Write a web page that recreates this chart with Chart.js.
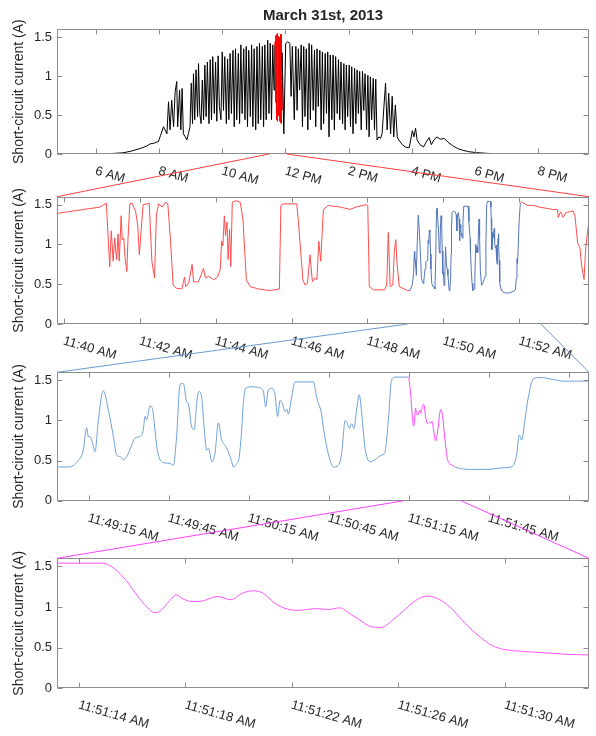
<!DOCTYPE html>
<html>
<head>
<meta charset="utf-8">
<script src="https://cdn.jsdelivr.net/npm/chart.js@4.4.1/dist/chart.umd.min.js"></script>
<style>
  html, body { margin: 0; padding: 0; background: #fff; }
  #page { position: relative; width: 596px; height: 736px; overflow: hidden; background: #fff; }
  #page canvas { position: absolute; left: 0; }
</style>
</head>
<body>
<div id="page">
  <canvas id="day" width="596" height="200" style="top:0px"></canvas>
  <canvas id="minutes" width="596" height="190" style="top:180px"></canvas>
  <canvas id="seconds" width="596" height="190" style="top:356px"></canvas>
  <canvas id="detail" width="596" height="194" style="top:542px"></canvas>
  <canvas id="links" width="596" height="736" style="top:0px"></canvas>
</div>
<script>
// --- whole day, hours (outside the zoomed window) ---
const dayHours = [4.77, 5.5, 6.0, 6.5, 6.85, 7.1, 7.4, 7.6, 7.72, 7.85, 7.98,
  8.05, 8.14, 8.19, 8.25, 8.30, 8.35, 8.40, 8.46, 8.51, 8.56, 8.59, 8.65, 8.69, 8.73, 8.77, 8.83, 8.88, 8.93, 8.98,
  9.02, 9.06, 9.09, 9.13, 9.17, 9.22, 9.25, 9.29, 9.33, 9.37, 9.41, 9.45, 9.49, 9.53, 9.58, 9.62, 9.66, 9.70, 9.75, 9.79, 9.83, 9.87, 9.91, 9.96,
  10.00, 10.04, 10.08, 10.13, 10.17, 10.21, 10.25, 10.29, 10.34, 10.38, 10.42, 10.46, 10.51, 10.55, 10.59, 10.63, 10.68, 10.72, 10.76, 10.80, 10.84, 10.89, 10.93, 10.97,
  11.01, 11.06, 11.10, 11.14, 11.18, 11.22, 11.27, 11.31, 11.35, 11.39, 11.44, 11.48, 11.52, 11.56, 11.60, 11.64,
  11.95, 12.01, 12.07, 12.14, 12.18, 12.22, 12.28, 12.33, 12.37, 12.41, 12.45, 12.50, 12.54, 12.58, 12.62, 12.66, 12.71, 12.75, 12.79, 12.83, 12.88, 12.92, 12.96,
  13.00, 13.04, 13.09, 13.13, 13.17, 13.21, 13.26, 13.30, 13.34, 13.38, 13.42, 13.47, 13.51, 13.55, 13.59, 13.64, 13.68, 13.72, 13.76, 13.81, 13.85, 13.89, 13.93, 13.97,
  14.02, 14.06, 14.10, 14.14, 14.19, 14.23, 14.27, 14.31, 14.35, 14.40, 14.44, 14.48, 14.52, 14.57, 14.61, 14.65, 14.69, 14.73, 14.78, 14.82, 14.86, 14.90, 14.96,
  15.01, 15.06, 15.17, 15.22, 15.27, 15.33, 15.38, 15.43, 15.48, 15.54, 15.59, 15.70, 15.80, 15.92,
  16.02, 16.07, 16.12, 16.17, 16.26, 16.37, 16.45, 16.55, 16.62, 16.70, 16.80, 16.90,
  17.03, 17.15, 17.28, 17.45, 17.60, 17.80, 18.06, 18.40, 18.80, 19.50, 21.61];
const dayAmps = [0, 0, 0.002, 0.006, 0.015, 0.035, 0.07, 0.10, 0.13, 0.14, 0.16,
  0.24, 0.35, 0.31, 0.26, 0.67, 0.31, 0.69, 0.35, 0.80, 0.93, 0.35, 0.82, 0.31, 0.84, 0.26, 0.22, 0.18, 0.26, 0.35,
  0.91, 0.39, 1.03, 0.44, 1.08, 0.48, 1.16, 0.52, 0.39, 0.95, 0.44, 1.14, 0.48, 1.18, 0.39, 1.21, 0.44, 1.25, 0.52, 1.18, 0.42, 1.26, 0.61, 0.44,
  1.31, 0.56, 1.25, 0.39, 1.22, 0.44, 1.29, 0.52, 1.33, 0.35, 1.35, 0.44, 1.29, 0.39, 1.40, 0.52, 1.35, 0.44, 1.38, 0.35, 1.33, 0.48, 1.40, 0.35,
  1.35, 0.31, 1.38, 0.39, 1.42, 0.44, 1.38, 0.35, 1.40, 0.44, 1.46, 0.52, 1.42, 0.44, 1.40, 0.82,
  0.26, 1.42, 1.44, 1.42, 0.74, 1.38, 0.44, 1.38, 0.56, 1.35, 0.82, 1.40, 0.35, 1.38, 0.48, 1.35, 0.31, 1.42, 0.44, 1.40, 0.56, 1.33, 0.35,
  1.35, 0.61, 1.33, 0.31, 1.31, 0.39, 1.29, 0.52, 1.31, 0.22, 1.27, 0.44, 1.27, 0.31, 1.25, 0.52, 1.21, 0.44, 1.18, 0.39, 1.16, 0.31, 1.14, 0.48,
  1.14, 0.35, 1.12, 0.26, 1.10, 0.39, 1.08, 0.52, 1.06, 0.31, 1.06, 0.56, 1.03, 0.31, 1.01, 0.22, 0.99, 0.44, 0.97, 0.31, 0.96, 0.18, 0.22,
  0.20, 0.26, 0.91, 0.31, 0.78, 0.26, 0.74, 0.22, 0.63, 0.22, 0.18, 0.12, 0.09, 0.08,
  0.30, 0.22, 0.33, 0.18, 0.12, 0.09, 0.15, 0.21, 0.12, 0.18, 0.22, 0.19,
  0.20, 0.15, 0.11, 0.07, 0.05, 0.03, 0.017, 0.008, 0.003, 0, 0];
const dayRange = [4.77, 21.61];
const dayTicks = [6, 8, 10, 12, 14, 16, 18, 20];
const dayLabels = ['6 AM', '8 AM', '10 AM', '12 PM', '2 PM', '4 PM', '6 PM', '8 PM'];
const dayLink = [11.48, 12.04];

// --- 11:39:49 to 11:53:50, minutes after 11:00 (outside the next zoom) ---
const minuteTimes = [39.82, 40.53, 40.96, 41.12, 41.21, 41.25, 41.30, 41.34, 41.39, 41.43, 41.46, 41.51, 41.54, 41.58, 41.61, 41.66, 41.69, 41.74, 41.80, 41.89,
  41.95, 41.99, 42.04, 42.09, 42.19, 42.25, 42.32, 42.39, 42.44, 42.50, 42.59, 42.68, 42.74, 42.81, 42.88, 42.96, 43.11, 43.18, 43.21, 43.29,
  43.38, 43.42, 43.55, 43.68, 43.73, 43.82, 43.95, 44.05, 44.12, 44.16, 44.19, 44.23, 44.26, 44.30, 44.33, 44.37, 44.40, 44.44, 44.54, 44.65,
  44.72, 44.81, 44.91, 45.13, 45.44, 45.68, 45.72, 45.79, 46.14, 46.18, 46.30, 46.36, 46.42, 46.49, 46.55, 46.61, 46.67, 46.72, 46.77, 46.84,
  46.97, 47.28, 47.54, 47.70, 47.96, 48.01, 48.05, 48.16, 48.45, 48.51, 48.55, 48.60, 48.67, 48.71, 48.75, 48.78, 48.84, 48.97,
  52.53, 52.88, 53.01, 53.03, 53.09, 53.16, 53.23, 53.33, 53.42, 53.47, 53.54, 53.60, 53.65, 53.71, 53.75, 53.81, 53.84];
const minuteAmps = [1.39, 1.44, 1.47, 1.52, 0.72, 1.17, 0.79, 1.08, 0.81, 1.13, 0.79, 1.36, 1.06, 1.08, 0.85, 0.66, 1.06, 1.51, 1.52, 1.42,
  1.23, 0.87, 1.19, 1.50, 1.51, 1.52, 0.79, 0.58, 1.38, 1.51, 1.47, 1.53, 1.51, 1.06, 0.49, 0.45, 0.44, 0.59, 0.47, 0.51,
  0.75, 0.53, 0.53, 0.70, 0.58, 0.60, 0.555, 0.59, 0.68, 1.04, 0.98, 1.36, 1.11, 1.28, 0.81, 1.19, 0.72, 1.53, 1.55, 1.53,
  1.32, 0.555, 0.47, 0.44, 0.42, 0.44, 1.49, 1.51, 1.51, 1.30, 0.555, 0.49, 0.51, 0.87, 0.53, 0.58, 0.555, 1.04, 0.79, 1.44,
  1.49, 1.47, 1.44, 1.47, 1.50, 1.49, 0.47, 0.43, 0.43, 0.49, 1.15, 0.47, 0.49, 0.92, 1.06, 0.77, 0.47, 0.44,
  1.47, 1.44, 1.44, 1.34, 1.41, 1.34, 1.40, 1.41, 1.42, 1.36, 1.02, 0.96, 0.72, 0.56, 0.94, 1.19, 1.30];
const minuteRange = [39.82, 53.84];
const minuteTicks = [40, 42, 44, 46, 48, 50, 52];
const minuteLabels = ['11:40 AM', '11:42 AM', '11:44 AM', '11:46 AM', '11:48 AM', '11:50 AM', '11:52 AM'];
const minuteBlue = [49.08, 52.03];
const minuteLink = [49.06, 52.57];

// --- 11:49:03 to 11:52:23, seconds after 11:49:00 (outside the next zoom) ---
const secondTimes = [3.15, 7.4, 11.15, 13.0, 14.3, 14.9, 15.5, 16.4, 17.4, 18.65, 20.5, 22.4, 24.3, 25.5, 26.8, 28.0, 29.3, 31.15, 32.4, 34.3,
  35.5, 36.15, 36.8, 38.0, 38.9, 39.9, 40.5, 41.8, 43.65, 45.5, 46.8, 48.0, 49.3, 50.5, 51.8, 52.4, 53.65, 54.65, 55.5, 56.4,
  57.4, 58.3, 59.3, 59.9, 60.5, 61.15, 62.4, 63.65, 64.9, 66.15, 67.4, 68.65, 69.3, 70.5, 71.4, 72.4, 73.0, 73.9, 76.15, 78.65,
  80.5, 81.4, 82.4, 83.9, 84.9, 85.9, 86.8, 87.65, 88.65, 89.3, 89.9, 91.15, 92.4, 99.3, 100.5, 102.4, 103.0, 104.3, 105.5, 106.8,
  108.6, 109.9, 111.2, 111.8, 112.8, 113.6, 114.5, 115.5, 116.5, 117.4, 118.6, 120.5, 122.4, 124.9, 126.1, 127.4, 128.6, 129.9,
  158.0, 164.3, 170.5, 174.0, 175.5, 176.5, 177.4, 178.6, 179.9, 181.8, 184.3, 189.3, 193.0, 198.0, 202.65];
const secondAmps = [0.42, 0.42, 0.50, 0.63, 0.91, 0.80, 0.80, 0.73, 0.61, 1.0, 1.37, 1.13, 0.80, 0.57, 0.55, 0.51, 0.55, 0.69, 0.78, 0.80,
  0.88, 1.05, 1.01, 1.18, 1.15, 0.88, 0.69, 0.51, 0.47, 0.465, 0.44, 0.80, 1.45, 1.46, 1.23, 1.21, 0.92, 0.89, 1.21, 1.36,
  1.29, 0.92, 0.63, 0.65, 0.59, 0.485, 0.59, 0.97, 0.755, 0.69, 0.61, 0.485, 0.42, 0.465, 0.53, 0.88, 1.21, 1.40, 1.42, 1.41,
  1.37, 1.17, 1.38, 1.40, 1.32, 1.05, 1.25, 1.21, 1.11, 1.14, 1.08, 1.29, 1.48, 1.48, 1.29, 1.07, 0.92, 0.67, 0.51, 0.42,
  0.44, 0.59, 1.0, 0.98, 0.90, 0.96, 0.90, 1.13, 1.32, 1.09, 0.67, 0.485, 0.51, 0.57, 0.60, 1.0, 1.50, 1.54,
  0.39, 0.39, 0.41, 0.43, 0.57, 0.82, 0.755, 1.0, 1.29, 1.52, 1.535, 1.51, 1.49, 1.49, 1.49];
const secondRange = [3.15, 202.65];
const secondTicks = [15, 45, 75, 105, 135, 165, 195];
const secondLabels = ['11:49:15 AM', '11:49:45 AM', '11:50:15 AM', '11:50:45 AM', '11:51:15 AM', '11:51:45 AM', ''];
const secondPink = [134.5, 152.5];
const secondLink = [133.3, 154.6];

// --- 11:51:13 to 11:51:33, seconds after 11:51:00 ---
const detailTimes = [13.17, 14.9, 15.33, 15.76, 16.19, 16.55, 16.83, 17.05, 17.41, 17.65, 17.91, 18.2, 18.55, 19.2, 19.7, 20.13, 20.56, 20.92, 21.35, 21.78,
  22.21, 22.92, 23.36, 23.79, 24.21, 24.65, 25.0, 25.36, 25.79, 26.22, 26.65, 27.08, 27.44, 27.94, 28.51, 29.08, 29.51, 29.95, 30.52, 31.38, 32.24, 33.17];
const detailAmps = [1.54, 1.54, 1.47, 1.33, 1.14, 1.0, 0.93, 0.95, 1.08, 1.15, 1.10, 1.07, 1.07, 1.13, 1.09, 1.17, 1.20, 1.17, 1.05, 0.98,
  0.96, 0.98, 0.97, 0.99, 0.91, 0.82, 0.755, 0.75, 0.84, 0.96, 1.08, 1.135, 1.11, 1.0, 0.80, 0.63, 0.53, 0.48, 0.457, 0.44, 0.42, 0.41];
const detailRange = [13.17, 33.17];
const detailTicks = [14, 18, 22, 26, 30];
const detailLabels = ['11:51:14 AM', '11:51:18 AM', '11:51:22 AM', '11:51:26 AM', '11:51:30 AM'];

const FONT = "'Liberation Sans', Arial, Helvetica, sans-serif";
const TEXT = '#262626';
const FRAME = '#8c8c8c';

function toPoints(xs, ys) {
  return xs.map((x, i) => ({ x: x, y: ys[i] }));
}
// each zoom is the same signal, so the finer panel's readings fill the window of the coarser one
function merge(outer, inner, shift, scale) {
  const moved = inner.map(p => ({ x: shift + p.x / scale, y: p.y }));
  return outer.concat(moved).sort((a, b) => a.x - b.x);
}

const detailPts = toPoints(detailTimes, detailAmps);
const secondPts = merge(toPoints(secondTimes, secondAmps), detailPts, 120, 1);
const minutePts = merge(toPoints(minuteTimes, minuteAmps), secondPts, 49, 60);
const dayPts = merge(toPoints(dayHours, dayAmps), minutePts, 11, 60);
const dayRed = [11 + minuteRange[0] / 60, 11 + minuteRange[1] / 60];

function axesPlugin(ticks, labels) {
  return {
    id: 'boxAxes',
    afterDraw(chart) {
      const { ctx, chartArea: a } = chart;
      const xs = chart.scales.x, ys = chart.scales.y;
      const L = Math.round(a.left) + 0.5, R = Math.round(a.right) - 0.5;
      const T = Math.round(a.top) + 0.5, B = Math.round(a.bottom) - 0.5;
      ctx.save();
      ctx.strokeStyle = FRAME;
      ctx.lineWidth = 1;
      ctx.beginPath();
      ctx.rect(L, T, R - L, B - T);
      ticks.forEach(v => {
        const px = Math.round(xs.getPixelForValue(v)) + 0.5;
        ctx.moveTo(px, B); ctx.lineTo(px, B - 5);
        ctx.moveTo(px, T); ctx.lineTo(px, T + 5);
      });
      ys.ticks.forEach(t => {
        const py = Math.round(ys.getPixelForValue(t.value)) + 0.5;
        ctx.moveTo(L, py); ctx.lineTo(L + 5, py);
        ctx.moveTo(R, py); ctx.lineTo(R - 5, py);
      });
      ctx.stroke();

      // MATLAB-style slanted tick labels hanging from each tick
      ctx.fillStyle = TEXT;
      ctx.font = '13px ' + FONT;
      ctx.textAlign = 'left';
      ctx.textBaseline = 'top';
      ticks.forEach((v, i) => {
        if (!labels[i]) return;
        ctx.save();
        ctx.translate(xs.getPixelForValue(v) + 1.5, B + 11);
        ctx.rotate(16 * Math.PI / 180);
        ctx.fillText(labels[i], 0, 0);
        ctx.restore();
      });
      ctx.restore();
    }
  };
}

function panel(id, points, range, pad, base, hi, hiRange, ticks, labels, smooth, width, title) {
  return new Chart(document.getElementById(id), {
    type: 'line',
    data: {
      datasets: [{
        data: points,
        borderColor: base,
        borderWidth: width,
        pointRadius: 0,
        fill: false,
        tension: 0,
        cubicInterpolationMode: smooth ? 'monotone' : 'default',
        segment: {
          borderColor: c => (c.p0.parsed.x >= hiRange[0] - 1e-9 && c.p1.parsed.x <= hiRange[1] + 1e-9) ? hi : undefined
        }
      }]
    },
    options: {
      responsive: false,
      animation: false,
      events: [],
      layout: { padding: pad },
      plugins: {
        legend: { display: false },
        tooltip: { enabled: false },
        title: {
          display: !!title,
          text: title || '',
          fullSize: false,
          color: TEXT,
          font: { family: FONT, size: 15, weight: 'bold' },
          padding: { top: 7, bottom: 4.3 }
        }
      },
      scales: {
        x: { type: 'linear', min: range[0], max: range[1], display: false },
        y: {
          min: 0, max: 1.6,
          ticks: {
            stepSize: 0.5, includeBounds: false, padding: 5, color: TEXT,
            font: { family: FONT, size: 13 },
            callback: v => String(v)
          },
          grid: { display: false, drawTicks: false },
          border: { display: false },
          title: {
            display: true,
            text: 'Short-circuit current (A)',
            color: TEXT,
            font: { family: FONT, size: 14 },
            padding: { top: 11, bottom: 0 }
          },
          afterFit: s => { s.width = 57; }
        }
      }
    },
    plugins: [axesPlugin(ticks, labels)]
  });
}

const dayChart = panel('day', dayPts, dayRange, { left: 0, right: 7, top: 0, bottom: 46 },
  '#000000', '#ff0000', dayRed, dayTicks, dayLabels, false, 1, 'March 31st, 2013');
const minuteChart = panel('minutes', minutePts, minuteRange, { left: 0, right: 7, top: 16.7, bottom: 46 },
  '#ff4d4d', '#5577bb', minuteBlue, minuteTicks, minuteLabels, false, 1, null);
const secondChart = panel('seconds', secondPts, secondRange, { left: 0, right: 7, top: 16.3, bottom: 45.3 },
  '#6fa0d8', '#ff44ff', secondPink, secondTicks, secondLabels, true, 1, null);
const detailChart = panel('detail', detailPts, detailRange, { left: 0, right: 7, top: 16.3, bottom: 47.7 },
  '#ff55ff', '#ff55ff', detailRange, detailTicks, detailLabels, true, 1, null);

// zoom connectors from the window on one axis to the corners of the next
const g = document.getElementById('links').getContext('2d');
function link(upper, lower, anchors, color) {
  const a = upper.chartArea, b = lower.chartArea;
  const top1 = upper.canvas.offsetTop, top2 = lower.canvas.offsetTop;
  g.strokeStyle = color;
  g.lineWidth = 1;
  g.beginPath();
  g.moveTo(upper.scales.x.getPixelForValue(anchors[0]), top1 + a.bottom);
  g.lineTo(b.left, top2 + b.top);
  g.moveTo(upper.scales.x.getPixelForValue(anchors[1]), top1 + a.bottom);
  g.lineTo(b.right, top2 + b.top);
  g.stroke();
}
link(dayChart, minuteChart, dayLink, '#ff4040');
link(minuteChart, secondChart, minuteLink, '#6a9ad2');
link(secondChart, detailChart, secondLink, '#ff40ff');
</script>
</body>
</html>
